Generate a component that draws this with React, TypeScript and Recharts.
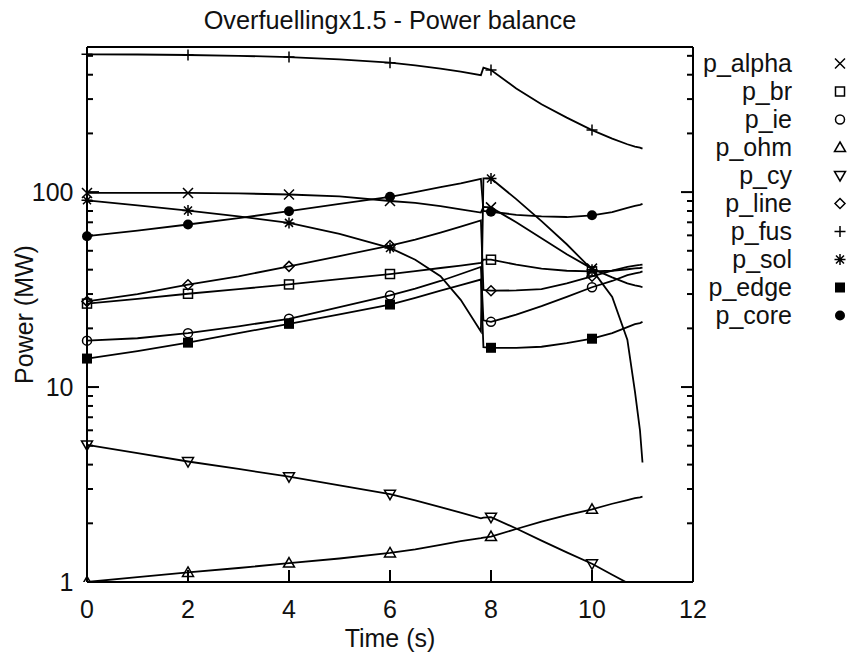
import { Line, LineChart, XAxis, YAxis } from "recharts";

// Sample times (s); the event at 7.8 s is resolved with an extra point at 7.85 s
const times = [0, 1, 2, 3, 4, 5, 6, 6.5, 7, 7.4, 7.8, 7.85, 8, 8.5, 9, 9.5, 10, 10.4, 10.7, 10.85, 10.95, 11];

// Power terms (MW)
const pAlpha = [99, 99, 99, 98.5, 97.2, 95, 90, 88, 84.7, 81.5, 78.5, 84, 83.5, 70, 58, 48, 40.5, 36.5, 34, 33.2, 32.8, 32.5];
const pBr = [26.8, 28.3, 30.1, 31.8, 33.6, 35.8, 38, 39.3, 40.8, 42, 43.3, 45, 45, 42.5, 40.5, 39.5, 39.2, 39.5, 40.2, 40.6, 40.8, 41];
const pIe = [17.3, 17.8, 18.9, 20.5, 22.4, 25.7, 29.5, 32, 35, 38, 41.3, 22, 21.6, 23.5, 26, 29, 32.5, 35, 37.5, 38.3, 38.8, 39.2];
const pOhm = [1, 1.06, 1.12, 1.18, 1.25, 1.32, 1.41, 1.47, 1.55, 1.62, 1.68, 1.69, 1.71, 1.87, 2.04, 2.2, 2.36, 2.52, 2.63, 2.69, 2.72, 2.74];
const pCy = [5.05, 4.58, 4.15, 3.8, 3.47, 3.13, 2.82, 2.62, 2.42, 2.27, 2.12, 2.14, 2.15, 1.88, 1.63, 1.42, 1.24, 1.09, 0.99, 0.95, 0.93, 0.91];
const pLine = [27.5, 30, 33.5, 37, 41.6, 47, 53.2, 57, 62, 66.5, 71.5, 31.5, 31.2, 31.3, 31.8, 34, 37, 39.5, 41.3, 42, 42.3, 42.5];
const pFus = [509, 508, 505, 500, 493, 480, 461, 447, 430, 415, 398, 435, 423, 340, 282, 241, 208, 188, 176, 171, 169, 167];
const pSol = [90.8, 85.5, 80.4, 75, 69.5, 61, 51.7, 45, 37, 28, 19.3, 117.5, 117.5, 92, 71, 54, 40, 29, 17.5, 9.5, 6, 4.1];
const pEdge = [14, 15.3, 16.9, 18.9, 21.1, 23.6, 26.5, 28.7, 31.2, 33.3, 35.6, 16, 15.9, 15.9, 16.1, 16.8, 17.7, 18.9, 20.3, 21, 21.3, 21.6];
const pCore = [59.4, 63.5, 68.2, 73.5, 79.8, 87, 94.6, 100, 106, 111, 117, 80, 79.3, 76.5, 75, 74.5, 76, 79, 83, 85, 86, 87];

// points are only marked every 2 s
const markerTimes = [0, 2, 4, 6, 8, 10];

const xTicks = [0, 2, 4, 6, 8, 10, 12];
const yMajor = [1, 10, 100];
const yMinor = [2, 3, 4, 5, 6, 7, 8, 9, 20, 30, 40, 50, 60, 70, 80, 90, 200, 300, 400, 500];
const yTicks = [...yMajor, ...yMinor];

type Shape = "cross" | "box" | "ring" | "triUp" | "triDown" | "diamond" | "plus" | "star" | "boxFill" | "dot";

const series: { key: string; values: number[]; shape: Shape }[] = [
  { key: "p_alpha", values: pAlpha, shape: "cross" },
  { key: "p_br", values: pBr, shape: "box" },
  { key: "p_ie", values: pIe, shape: "ring" },
  { key: "p_ohm", values: pOhm, shape: "triUp" },
  { key: "p_cy", values: pCy, shape: "triDown" },
  { key: "p_line", values: pLine, shape: "diamond" },
  { key: "p_fus", values: pFus, shape: "plus" },
  { key: "p_sol", values: pSol, shape: "star" },
  { key: "p_edge", values: pEdge, shape: "boxFill" },
  { key: "p_core", values: pCore, shape: "dot" },
];

const rows = times.map((t, i) => {
  const row: Record<string, number> = { t };
  series.forEach((s) => (row[s.key] = s.values[i]));
  return row;
});

const FONT = "'Liberation Sans', Arial, sans-serif";
const INK = "#111";

function marker(shape: Shape, cx: number, cy: number, key?: string) {
  const st = { stroke: "#000", strokeWidth: 1.5, fill: "none" };
  switch (shape) {
    case "cross":
      return <path key={key} d={`M${cx - 5} ${cy - 5}L${cx + 5} ${cy + 5}M${cx + 5} ${cy - 5}L${cx - 5} ${cy + 5}`} {...st} />;
    case "box":
      return <rect key={key} x={cx - 4.5} y={cy - 4.5} width={9} height={9} {...st} />;
    case "ring":
      return <circle key={key} cx={cx} cy={cy} r={4.5} {...st} />;
    case "triUp":
      return <path key={key} d={`M${cx} ${cy - 5.5}L${cx + 5.5} ${cy + 4}L${cx - 5.5} ${cy + 4}Z`} {...st} />;
    case "triDown":
      return <path key={key} d={`M${cx} ${cy + 5.5}L${cx + 5.5} ${cy - 4}L${cx - 5.5} ${cy - 4}Z`} {...st} />;
    case "diamond":
      return <path key={key} d={`M${cx} ${cy - 5}L${cx + 5} ${cy}L${cx} ${cy + 5}L${cx - 5} ${cy}Z`} {...st} />;
    case "plus":
      return <path key={key} d={`M${cx - 5.5} ${cy}H${cx + 5.5}M${cx} ${cy - 5.5}V${cy + 5.5}`} {...st} />;
    case "star":
      return (
        <path
          key={key}
          d={`M${cx - 5.5} ${cy}H${cx + 5.5}M${cx} ${cy - 5.5}V${cy + 5.5}M${cx - 4} ${cy - 4}L${cx + 4} ${cy + 4}M${cx + 4} ${cy - 4}L${cx - 4} ${cy + 4}`}
          {...st}
        />
      );
    case "boxFill":
      return <rect key={key} x={cx - 5} y={cy - 5} width={10} height={10} fill="#000" />;
    case "dot":
      return <circle key={key} cx={cx} cy={cy} r={5} fill="#000" />;
  }
}

const dotFor = (shape: Shape) => (props: any) => {
  const { cx, cy, payload, index } = props;
  const k = `m-${index}`;
  if (!markerTimes.includes(payload.t) || cx == null || cy == null) return <g key={k} />;
  return marker(shape, cx, cy, k);
};

const tickText = { fontFamily: FONT, fontSize: 25, fill: INK };
const tickStroke = { stroke: "#000", strokeWidth: 2 };

// y ticks point inward on both sides, minor ones shorter
const LeftTick = (props: any) => {
  const { x, y, payload } = props;
  const major = yMajor.includes(payload.value);
  return (
    <g>
      <line x1={x} x2={x + (major ? 12 : 6)} y1={y} y2={y} {...tickStroke} />
      {major && (
        <text x={x - 13.5} y={y} dy="0.355em" textAnchor="end" {...tickText}>
          {payload.value}
        </text>
      )}
    </g>
  );
};

const RightTick = (props: any) => {
  const { x, y, payload } = props;
  const major = yMajor.includes(payload.value);
  return <line x1={x} x2={x - (major ? 12 : 6)} y1={y} y2={y} {...tickStroke} />;
};

// x ticks use the axis' own tick lines (negative size = inward); only the label is custom
const BottomLabel = (props: any) => {
  const { x, y, payload } = props;
  return (
    <text x={x} y={y + 48} textAnchor="middle" {...tickText}>
      {payload.value}
    </text>
  );
};

const frame = { stroke: "#000", strokeWidth: 2 };

export default function App() {
  return (
    <div style={{ position: "absolute", left: 0, top: 0, width: 852, height: 655, background: "#fff" }}>
      <LineChart width={852} height={655} data={rows} margin={{ top: 46, right: 158, bottom: 0, left: 0 }}>
        <XAxis
          xAxisId="bottom"
          dataKey="t"
          type="number"
          domain={[0, 12]}
          ticks={xTicks}
          interval={0}
          height={73}
          tickSize={-12}
          tickMargin={0}
          tickLine={tickStroke}
          axisLine={frame}
          tick={BottomLabel}
        />
        {/* mirrored top axis: 1px tall so it still renders */}
        <XAxis
          xAxisId="top"
          orientation="top"
          dataKey="t"
          type="number"
          domain={[0, 12]}
          ticks={xTicks}
          interval={0}
          height={1}
          tickSize={-12}
          tickMargin={0}
          tickLine={tickStroke}
          axisLine={frame}
          tick={false}
        />
        <YAxis
          yAxisId="left"
          type="number"
          scale="log"
          domain={[1, 555]}
          allowDataOverflow
          ticks={yTicks}
          interval={0}
          width={87}
          tickSize={0}
          tickMargin={0}
          tickLine={false}
          axisLine={frame}
          tick={LeftTick}
        />
        <YAxis
          yAxisId="right"
          orientation="right"
          type="number"
          scale="log"
          domain={[1, 555]}
          allowDataOverflow
          ticks={yTicks}
          interval={0}
          width={1}
          tickSize={0}
          tickMargin={0}
          tickLine={false}
          axisLine={frame}
          tick={RightTick}
        />
        {series.map((s) => (
          <Line
            key={s.key}
            xAxisId="bottom"
            yAxisId="left"
            dataKey={s.key}
            type="linear"
            stroke="#000"
            strokeWidth={1.8}
            dot={dotFor(s.shape)}
            activeDot={false}
            isAnimationActive={false}
          />
        ))}
        {/* unstroked copy bound to the mirrored axes */}
        <Line
          xAxisId="top"
          yAxisId="right"
          dataKey="p_fus"
          stroke="none"
          dot={false}
          activeDot={false}
          legendType="none"
          isAnimationActive={false}
        />
      </LineChart>
      <svg
        width={852}
        height={655}
        style={{ position: "absolute", left: 0, top: 0, pointerEvents: "none" }}
      >
        <text x={390} y={28.5} textAnchor="middle" fontFamily={FONT} fontSize={25.3} fill={INK}>
          Overfuellingx1.5 - Power balance
        </text>
        <text x={390} y={647} textAnchor="middle" fontFamily={FONT} fontSize={25} fill={INK}>
          Time (s)
        </text>
        <text
          transform="translate(33 314.5) rotate(-90)"
          textAnchor="middle"
          fontFamily={FONT}
          fontSize={25}
          fill={INK}
        >
          Power (MW)
        </text>
        {series.map((s, i) => {
          const cy = 63.5 + i * 28;
          return (
            <g key={s.key}>
              <text x={792} y={cy} dy="0.35em" textAnchor="end" fontFamily={FONT} fontSize={25} fill={INK}>
                {s.key}
              </text>
              {marker(s.shape, 840, cy)}
            </g>
          );
        })}
      </svg>
    </div>
  );
}
